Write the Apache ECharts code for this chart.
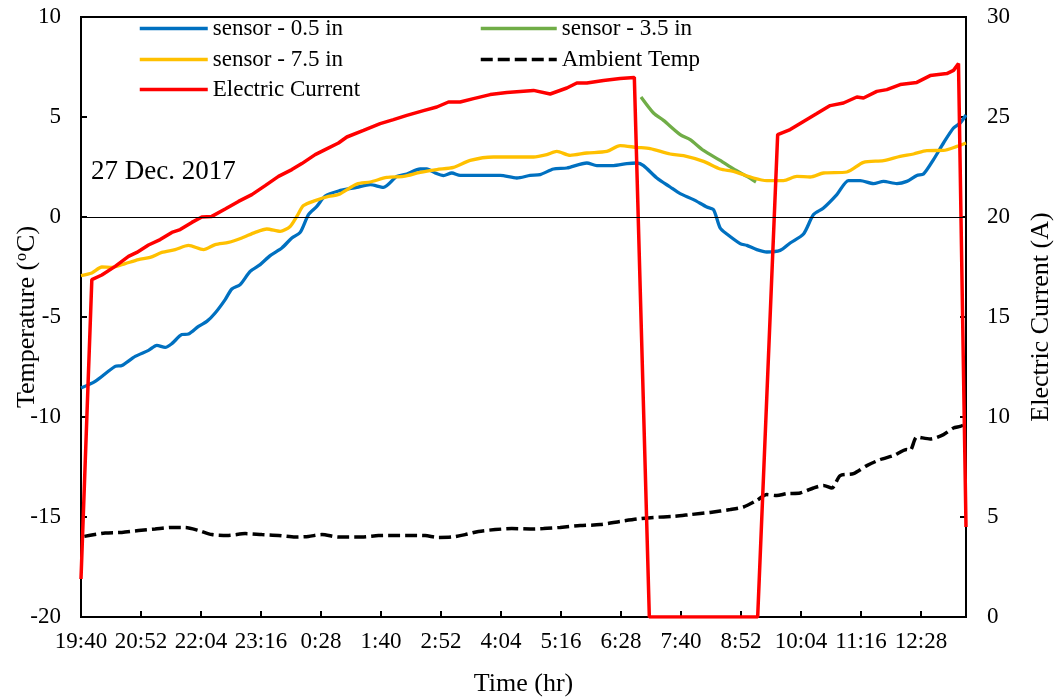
<!DOCTYPE html>
<html>
<head>
<meta charset="utf-8">
<script src="https://cdn.jsdelivr.net/npm/echarts@6/dist/echarts.min.js"></script>
<style>
html,body{margin:0;padding:0;background:#fff;}
#chart{width:1055px;height:698px;}
</style>
</head>
<body>
<div id="chart"></div>
<script>
// Time in minutes after 19:40
const startClock = 19 * 60 + 40;
const tickStep = 72;
const xMax = 1062;

const tBlue = [0,17,41,49,65,81,91,101,109,121,129,141,151,161,173,181,191,203,215,227,241,253,263,273,283,293,309,331,347,363,379,391,407,415,425,435,445,455,479,503,523,539,551,567,583,607,619,639,655,667,675,691,707,719,735,751,759,767,775,791,799,811,823,839,851,867,879,891,907,921,935,951,963,979,991,1003,1011,1023,1035,1047,1055,1062];
const vBlue = [-8.55,-8.22,-7.47,-7.43,-6.97,-6.67,-6.42,-6.52,-6.33,-5.88,-5.85,-5.47,-5.22,-4.8,-4.13,-3.6,-3.38,-2.72,-2.38,-1.93,-1.55,-1.05,-0.77,0.12,0.53,1.05,1.3,1.48,1.62,1.48,2.03,2.15,2.4,2.4,2.2,2.07,2.2,2.08,2.08,2.08,1.95,2.08,2.12,2.4,2.45,2.7,2.57,2.57,2.67,2.7,2.57,1.95,1.5,1.17,0.87,0.5,0.37,-0.55,-0.85,-1.33,-1.42,-1.63,-1.75,-1.67,-1.3,-0.85,0.12,0.45,1.12,1.82,1.82,1.67,1.78,1.67,1.78,2.08,2.15,2.87,3.7,4.45,4.7,5.1];

const tGreen = [672,687,699,719,731,747,767,783,799,810];
const vGreen = [6.0,5.2,4.83,4.12,3.87,3.33,2.83,2.4,2.03,1.75];

const tYellow = [0,13,25,37,53,69,83,97,113,129,147,161,177,193,209,223,239,251,259,267,281,297,309,331,347,367,387,407,427,447,467,495,527,543,559,571,587,607,631,647,667,683,707,723,747,767,783,807,823,843,859,875,891,919,939,963,983,999,1015,1035,1051,1062];
const vYellow = [-2.93,-2.8,-2.5,-2.52,-2.33,-2.13,-2.02,-1.77,-1.63,-1.42,-1.63,-1.38,-1.27,-1.05,-0.77,-0.6,-0.72,-0.47,0.03,0.57,0.82,1.03,1.12,1.65,1.75,1.98,2.03,2.23,2.37,2.48,2.83,3.0,3.0,3.0,3.12,3.28,3.08,3.2,3.28,3.57,3.48,3.42,3.15,3.07,2.78,2.4,2.28,1.95,1.82,1.82,2.03,2.0,2.2,2.25,2.73,2.82,3.03,3.15,3.32,3.33,3.53,3.7];

const tAmbient = [4,29,49,69,89,109,125,141,157,177,197,217,237,257,273,289,309,337,357,377,397,413,429,445,461,477,497,517,539,555,575,599,623,647,667,687,711,731,755,779,795,811,823,835,847,863,879,891,901,911,927,943,959,975,991,995,1003,1019,1035,1047,1055,1062];
const vAmbient = [-15.97,-15.8,-15.77,-15.68,-15.6,-15.52,-15.52,-15.67,-15.88,-15.92,-15.83,-15.88,-15.92,-16.0,-15.97,-15.88,-16.0,-16.0,-15.93,-15.92,-15.92,-15.93,-16.02,-16.0,-15.88,-15.72,-15.63,-15.58,-15.6,-15.58,-15.52,-15.43,-15.38,-15.22,-15.1,-15.02,-14.97,-14.88,-14.77,-14.63,-14.5,-14.17,-13.88,-13.93,-13.83,-13.8,-13.55,-13.42,-13.55,-12.93,-12.83,-12.43,-12.13,-11.93,-11.63,-11.67,-11.0,-11.1,-10.88,-10.55,-10.47,-10.35];

const tCurrent = [0,13,25,41,57,67,81,95,109,119,133,145,157,173,189,205,221,237,253,265,281,293,309,319,339,359,375,391,411,427,441,455,471,491,511,527,543,563,583,595,607,627,647,664,682,812,836,851,867,883,899,915,931,939,955,967,983,1003,1019,1039,1047,1053,1062];
const vCurrent = [1.9,16.87,17.1,17.53,18.03,18.23,18.6,18.87,19.23,19.37,19.73,20.0,20.03,20.4,20.78,21.12,21.57,22.03,22.37,22.67,23.12,23.37,23.7,24.0,24.33,24.67,24.87,25.08,25.32,25.5,25.75,25.75,25.92,26.12,26.23,26.28,26.33,26.15,26.45,26.7,26.7,26.83,26.93,26.98,0,0,24.12,24.37,24.78,25.17,25.57,25.7,26.0,25.95,26.28,26.37,26.62,26.73,27.07,27.17,27.33,27.67,4.5];

const seriesNames = ['sensor - 0.5 in','sensor - 3.5 in','sensor - 7.5 in','Ambient Temp','Electric Current'];
const seriesColors = ['#0070C0','#70AD47','#FFC000','#000000','#FF0000'];
const annotation = '27 Dec. 2017';

const zip = (t, v) => t.map((x, i) => [x, v[i]]);
const FONT = "'Liberation Serif','Times New Roman',serif";
const DASH = [12, 5];

function clockLabel(v) {
  if (v % tickStep !== 0) return '';
  const total = startClock + v;
  const h = Math.floor(total / 60) % 24;
  const m = total % 60;
  return h + ':' + (m < 10 ? '0' : '') + m;
}

const chart = echarts.init(document.getElementById('chart'), null, {renderer: 'canvas'});

const legendText = {fontFamily: FONT, fontSize: 23, color: '#000'};
function leg(idx, left, top, w) {
  return {
    data: [seriesNames[idx]], left: left, top: top, padding: 0,
    itemWidth: w, itemHeight: 14, textStyle: legendText,
    selectedMode: false,
    itemStyle: {opacity: 0},
    lineStyle: {color: seriesColors[idx], width: 3.5, type: idx === 3 ? DASH : 'solid'}
  };
}

const axisLineStyle = {color: '#000', width: 2};
const labelStyle = {fontFamily: FONT, fontSize: 23, color: '#000'};

const option = {
  backgroundColor: '#fff',
  animation: false,
  grid: {left: 81, right: 89, top: 17, bottom: 81, show: true, borderColor: '#000', borderWidth: 2,
         backgroundColor: 'transparent', containLabel: false, outerBoundsMode: 'none'},
  legend: [
    leg(0, 138, 17, 68),
    leg(1, 479, 17, 76),
    leg(2, 138, 48, 68),
    leg(3, 479, 48, 76),
    leg(4, 138, 78, 68)
  ],
  graphic: [{
    type: 'text', left: 91, top: 158,
    style: {text: annotation, font: '27px ' + FONT, fill: '#000'}
  }],
  xAxis: {
    type: 'value', min: 0, max: xMax, interval: tickStep,
    axisLine: {show: true, onZero: false, lineStyle: axisLineStyle},
    axisTick: {show: true, inside: true, length: 6, lineStyle: axisLineStyle},
    axisLabel: Object.assign({formatter: clockLabel, margin: 13, showMaxLabel: false}, labelStyle),
    splitLine: {show: false},
    name: 'Time (hr)', nameLocation: 'middle', nameGap: 54, nameMoveOverlap: false,
    nameTextStyle: {fontFamily: FONT, fontSize: 26, color: '#000'}
  },
  yAxis: [{
    type: 'value', position: 'left', min: -20, max: 10, interval: 5,
    axisLine: {show: true, lineStyle: axisLineStyle},
    axisTick: {show: true, inside: true, length: 6, lineStyle: axisLineStyle},
    axisLabel: Object.assign({margin: 20}, labelStyle),
    splitLine: {show: false},
    name: '{n|Temperature (}{s|o}{n|C)}', nameLocation: 'middle', nameGap: 41, nameMoveOverlap: false,
    nameTextStyle: {fontFamily: FONT, fontSize: 26, color: '#000',
      rich: {n: {fontFamily: FONT, fontSize: 26, color: '#000'},
             s: {fontFamily: FONT, fontSize: 16, color: '#000', verticalAlign: 'top', padding: [0, 1, 8, 1]}}}
  }, {
    type: 'value', position: 'right', min: 0, max: 30, interval: 5,
    axisLine: {show: true, lineStyle: axisLineStyle},
    axisTick: {show: true, inside: true, length: 6, lineStyle: axisLineStyle},
    axisLabel: Object.assign({margin: 21}, labelStyle),
    splitLine: {show: false},
    name: 'Electric Current (A)', nameLocation: 'middle', nameGap: 62, nameMoveOverlap: false,
    nameTextStyle: {fontFamily: FONT, fontSize: 26, color: '#000'}
  }],
  series: [
    {name: seriesNames[0], type: 'line', yAxisIndex: 0, data: zip(tBlue, vBlue), showSymbol: false, symbol: 'none', smooth: 0.25,
     lineStyle: {color: seriesColors[0], width: 3.3}, itemStyle: {color: seriesColors[0]},
     markLine: {silent: true, symbol: ['none','none'], label: {show: false}, lineStyle: {color: '#000', width: 1.2, type: 'solid'}, data: [{yAxis: 0}], animation: false}},
    {name: seriesNames[1], type: 'line', yAxisIndex: 0, data: zip(tGreen, vGreen), showSymbol: false, symbol: 'none', smooth: 0.25,
     lineStyle: {color: seriesColors[1], width: 3.3}, itemStyle: {color: seriesColors[1]}},
    {name: seriesNames[2], type: 'line', yAxisIndex: 0, data: zip(tYellow, vYellow), showSymbol: false, symbol: 'none', smooth: 0.25,
     lineStyle: {color: seriesColors[2], width: 3.3}, itemStyle: {color: seriesColors[2]}},
    {name: seriesNames[3], type: 'line', yAxisIndex: 0, data: zip(tAmbient, vAmbient), showSymbol: false, symbol: 'none', smooth: 0.25,
     lineStyle: {color: seriesColors[3], width: 3.5, type: DASH}, itemStyle: {color: seriesColors[3]}},
    {name: seriesNames[4], type: 'line', yAxisIndex: 1, data: zip(tCurrent, vCurrent), showSymbol: false, symbol: 'none', smooth: false,
     lineStyle: {color: seriesColors[4], width: 3.5}, itemStyle: {color: seriesColors[4]}}
  ]
};
chart.setOption(option);
</script>
</body>
</html>
